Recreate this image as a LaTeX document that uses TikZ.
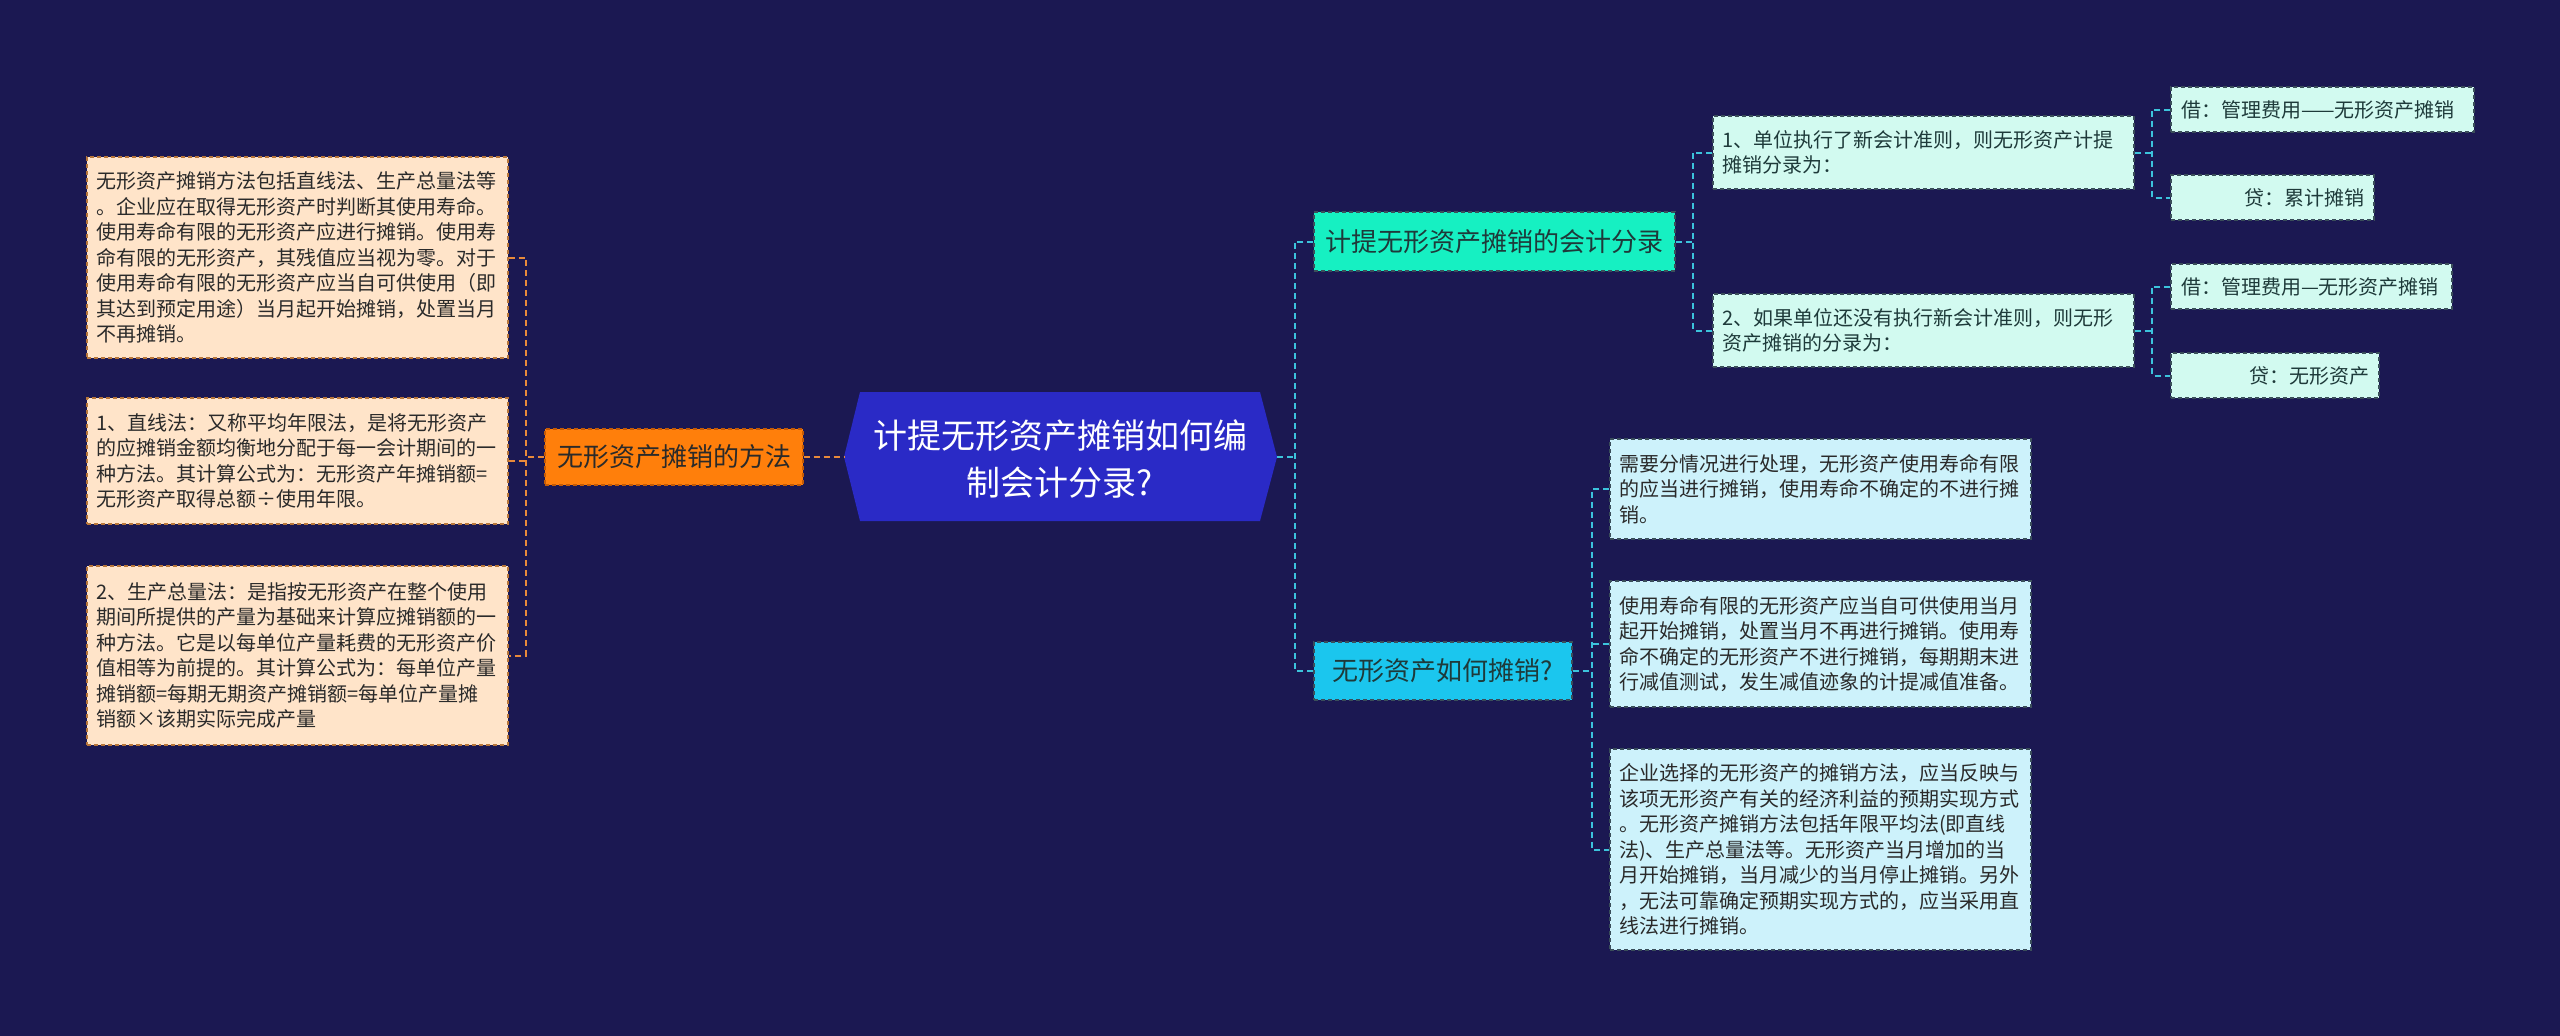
\documentclass[tikz,border=0pt]{standalone}
\usepackage{fontspec}
\newfontfamily\cjk{Noto Sans CJK SC}
\definecolor{bg}{HTML}{1B1852}
\definecolor{peachF}{HTML}{FFE4C9}
\definecolor{peachD}{HTML}{B8763A}
\definecolor{orF}{HTML}{FF7F0B}
\definecolor{orD}{HTML}{C45A05}
\definecolor{rootF}{HTML}{2A2AC6}
\definecolor{grF}{HTML}{16F0C2}
\definecolor{cyF}{HTML}{1BC6EE}
\definecolor{mintF}{HTML}{D2FAF0}
\definecolor{ltcyF}{HTML}{CDF2FB}
\definecolor{boxD}{HTML}{3A4E5A}
\definecolor{lineOr}{HTML}{E88A3A}
\definecolor{lineCy}{HTML}{3CC3DC}
\definecolor{txtD}{HTML}{2A2A2A}
\definecolor{txtG}{HTML}{1E3A3A}
\begin{document}
\begin{tikzpicture}[x=1pt,y=-1pt,
  conn/.style={line width=2pt, dash pattern=on 6pt off 4pt},
  lconn/.style={conn, draw=lineOr},
  rconn/.style={conn, draw=lineCy},
  box/.style={font=\cjk\fontsize{20}{25.5}\selectfont, inner xsep=9pt, inner ysep=0pt,
    line width=1.4pt, dash pattern=on 4pt off 3pt, anchor=center, align=left, text=txtD},
  peach/.style={box, fill=peachF, draw=peachD, text width=403pt},
  ltcy/.style={box, fill=ltcyF, draw=boxD, text width=403pt},
  mint/.style={box, fill=mintF, draw=boxD, text=txtG},
  mid/.style={font=\cjk\fontsize{26}{32}\selectfont, inner xsep=10pt, inner ysep=0pt,
    line width=1.4pt, dash pattern=on 4pt off 3pt, anchor=center, align=center}
]
\useasboundingbox[fill=bg] (0,0) rectangle (2560,1036);

% root
\fill[rootF] (844,457) -- (860,392) -- (1260,392) -- (1277,457) -- (1260,521) -- (860,521) -- cycle;
\node[font=\cjk\fontsize{34}{47}\selectfont, text=white, align=center] (root) at (1060,459)
  {计提无形资产摊销如何编\\制会计分录?};
\coordinate (rootL) at (844,457);
\coordinate (rootR) at (1277,457);

% left branch
\node[mid, fill=orF, draw=orD, text=txtD, minimum width=258pt, minimum height=56pt] (meth) at (674,457) {无形资产摊销的方法};

\node[peach, minimum height=201pt] (l1) at (297.5,257.5) {无形资产摊销方法包括直线法、生产总量法等\\。企业应在取得无形资产时判断其使用寿命。\\使用寿命有限的无形资产应进行摊销。使用寿\\命有限的无形资产，其残值应当视为零。对于\\使用寿命有限的无形资产应当自可供使用（即\\其达到预定用途）当月起开始摊销，处置当月\\不再摊销。};
\node[peach, minimum height=126pt] (l2) at (297.5,461) {1、直线法：又称平均年限法，是将无形资产\\的应摊销金额均衡地分配于每一会计期间的一\\种方法。其计算公式为：无形资产年摊销额=\\无形资产取得总额÷使用年限。};
\node[peach, minimum height=179pt] (l3) at (297.5,655.5) {2、生产总量法：是指按无形资产在整个使用\\期间所提供的产量为基础来计算应摊销额的一\\种方法。它是以每单位产量耗费的无形资产价\\值相等为前提的。其计算公式为：每单位产量\\摊销额=每期无期资产摊销额=每单位产量摊\\销额×该期实际完成产量};

\coordinate (lv) at (526,457);
\draw[lconn] (meth.east) -- (rootL);
\draw[lconn] (meth.west) -- (lv);
\draw[lconn] (l1.east) -- (l1.east -| lv) -- (l3.east -| lv) -- (l3.east);
\draw[lconn] (l2.east) -- (l2.east -| lv);

% right branch 1
\node[mid, fill=grF, draw=boxD, text=txtG, minimum width=361pt, minimum height=59pt] (acc) at (1494.5,241.5) {计提无形资产摊销的会计分录};
\node[mint, text width=403pt, minimum height=73pt] (m1) at (1923.5,152.5) {1、单位执行了新会计准则，则无形资产计提\\摊销分录为：};
\node[mint, text width=403pt, minimum height=73pt] (m2) at (1923.5,330.5) {2、如果单位还没有执行新会计准则，则无形\\资产摊销的分录为：};
\node[mint, inner xsep=10pt, text width=283pt, minimum height=45pt] (d1) at (2322.5,109.5) {借：管理费用——无形资产摊销};
\node[mint, inner xsep=10pt, text width=183pt, minimum height=45pt, align=right] (c1) at (2272.5,197.5) {贷：累计摊销};
\node[mint, inner xsep=10pt, text width=261pt, minimum height=45pt] (d2) at (2311.5,286.5) {借：管理费用—无形资产摊销};
\node[mint, inner xsep=10pt, text width=188pt, minimum height=45pt, align=right] (c2) at (2275,375.5) {贷：无形资产};

% right branch 2
\node[mid, fill=cyF, draw=boxD, text=txtG, minimum width=258pt, minimum height=58pt] (how) at (1443,671) {无形资产如何摊销?};
\node[ltcy, minimum height=100pt] (ra) at (1820.5,489) {需要分情况进行处理，无形资产使用寿命有限\\的应当进行摊销，使用寿命不确定的不进行摊\\销。};
\node[ltcy, minimum height=126pt] (rb) at (1820.5,644) {使用寿命有限的无形资产应当自可供使用当月\\起开始摊销，处置当月不再进行摊销。使用寿\\命不确定的无形资产不进行摊销，每期期末进\\行减值测试，发生减值迹象的计提减值准备。};
\node[ltcy, minimum height=201pt] (rc) at (1820.5,849.5) {企业选择的无形资产的摊销方法，应当反映与\\该项无形资产有关的经济利益的预期实现方式\\。无形资产摊销方法包括年限平均法(即直线\\法)、生产总量法等。无形资产当月增加的当\\月开始摊销，当月减少的当月停止摊销。另外\\，无法可靠确定预期实现方式的，应当采用直\\线法进行摊销。};

% right connectors
\coordinate (rv) at (1295,457);
\draw[rconn] (rootR) -- (rv);
\draw[rconn] (acc.west) -- (acc.west -| rv) -- (how.west -| rv) -- (how.west);

\coordinate (av) at (1693,241.5);
\draw[rconn] (acc.east) -- (av);
\draw[rconn] (m1.west) -- (m1.west -| av) -- (m2.west -| av) -- (m2.west);

\coordinate (bv) at (2152,152.5);
\draw[rconn] (m1.east) -- (bv);
\draw[rconn] (d1.west) -- (d1.west -| bv) -- (c1.west -| bv) -- (c1.west);

\coordinate (bv2) at (2152,330.5);
\draw[rconn] (m2.east) -- (bv2);
\draw[rconn] (d2.west) -- (d2.west -| bv2) -- (c2.west -| bv2) -- (c2.west);

\coordinate (hv) at (1592,671);
\draw[rconn] (how.east) -- (hv);
\draw[rconn] (ra.west) -- (ra.west -| hv) -- (rc.west -| hv) -- (rc.west);
\draw[rconn] (rb.west) -- (rb.west -| hv);
\end{tikzpicture}
\end{document}
